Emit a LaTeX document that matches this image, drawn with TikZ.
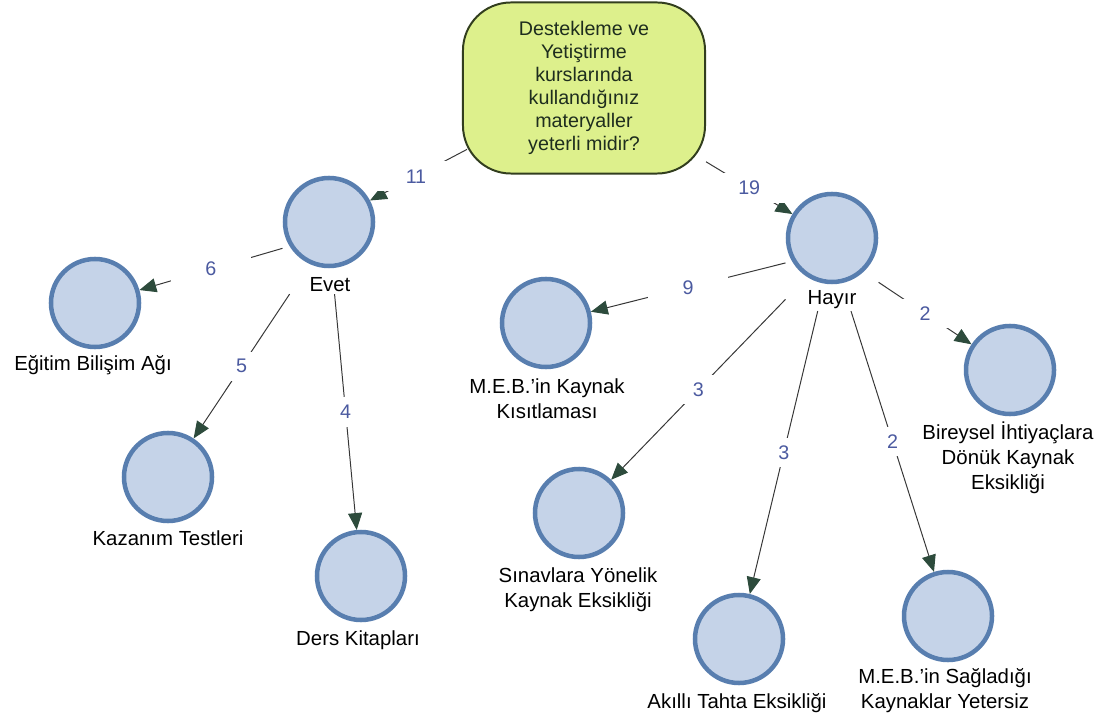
\documentclass[tikz,border=0pt]{standalone}
\usepackage{fontspec}
\setmainfont{Liberation Sans}
\usetikzlibrary{arrows.meta, fit}

\definecolor{circfill}{RGB}{197,211,232}
\definecolor{circline}{RGB}{88,126,175}
\definecolor{qfill}{RGB}{221,240,140}
\definecolor{qline}{RGB}{50,62,30}
\definecolor{qtext}{RGB}{30,45,30}
\definecolor{wtcol}{RGB}{75,90,160}
\definecolor{arrcol}{RGB}{45,75,60}
\definecolor{linecol}{RGB}{55,55,55}

\pgfdeclarelayer{bg}
\pgfsetlayers{bg,main}

\tikzset{
	concept/.style={circle, draw=circline, fill=circfill, line width=3.2pt, minimum size=2.2cm},
	question/.style={rectangle, rounded corners=1.2cm, draw=qline, line width=1.4pt, fill=qfill, text=qtext,
		minimum width=6.05cm, minimum height=4.275cm, align=center, font=\fontsize{14}{16.3}\selectfont},
	lbl/.style={align=center, font=\fontsize{14.5}{17.7}\selectfont, inner sep=1pt},
	grp/.style={inner sep=0pt},
	link/.style={draw=linecol, line width=0.7pt, -{Triangle[length=12pt, width=10pt, color=arrcol]}},
	wt/.style={fill=white, text=wtcol, minimum width=57pt, minimum height=21pt, inner sep=0pt, font=\fontsize{14}{16}\selectfont}
}

\begin{document}
\begin{tikzpicture}[x=0.025cm, y=-0.025cm]
	\useasboundingbox (0,0) rectangle (1109,720);
	% question
	\node [question] (q) at (584,88) {Destekleme ve\\Yetiştirme\\kurslarında\\kullandığınız\\materyaller\\yeterli midir?};
	% answers
	\node [concept] (evet) at (329,222) {};
	\node [lbl] (evett) at (330,285) {Evet};
	\node [grp, fit=(evet)(evett)] (evetg) {};
	\node [concept] (hayir) at (832,238) {};
	\node [lbl] (hayirt) at (832,300) {Hayır};
	\node [grp, fit=(hayir)(hayirt)] (hayirg) {};
	% evet side
	\node [concept] (egitim) at (95,303) {};
	\node [lbl] (egitimt) at (93,365) {Eğitim Bilişim Ağı};
	\node [concept] (kazanim) at (168,477) {};
	\node [lbl] (kazanimt) at (168,538) {Kazanım Testleri};
	\node [concept] (ders) at (361,576) {};
	\node [lbl] (derst) at (358,640) {Ders Kitapları};
	% hayir side
	\node [concept] (kaynak) at (546,323) {};
	\node [lbl] (kaynakt) at (547,399) {M.E.B.'in Kaynak\\Kısıtlaması};
	\node [concept] (bireysel) at (1010,370) {};
	\node [lbl] (bireyselt) at (1008,458) {Bireysel İhtiyaçlara\\Dönük Kaynak\\Eksikliği};
	\node [concept] (sinav) at (579,513) {};
	\node [lbl] (sinavt) at (578,590) {Sınavlara Yönelik\\Kaynak Eksikliği};
	\node [concept] (akilli) at (739,639) {};
	\node [lbl] (akillit) at (737,703) {Akıllı Tahta Eksikliği};
	\node [concept] (sagladigi) at (948,616) {};
	\node [lbl] (sagladigit) at (945,691) {M.E.B.'in Sağladığı\\Kaynaklar Yetersiz};
	% links
	\begin{pgfonlayer}{bg}
	\draw [link, shorten <=-4pt] (q) -- node [wt] {11} (evet);
	\draw [link] (q) -- node [wt] {19} (hayir);
	\draw [link] (evetg) -- node [wt] {6} (egitim);
	\draw [link] (evetg) -- node [wt] {5} (kazanim);
	\draw [link] (evetg) -- node [wt] {4} (ders);
	\draw [link] (hayirg) -- node [wt] {9} (kaynak);
	\draw [link] (hayirg) -- node [wt] {3} (sinav);
	\draw [link] (hayirg) -- node [wt] {3} (akilli);
	\draw [link] (hayirg) -- node [wt] {2} (sagladigi);
	\draw [link] (hayirg) -- node [wt] {2} (bireysel);
	\end{pgfonlayer}
\end{tikzpicture}
\end{document}
